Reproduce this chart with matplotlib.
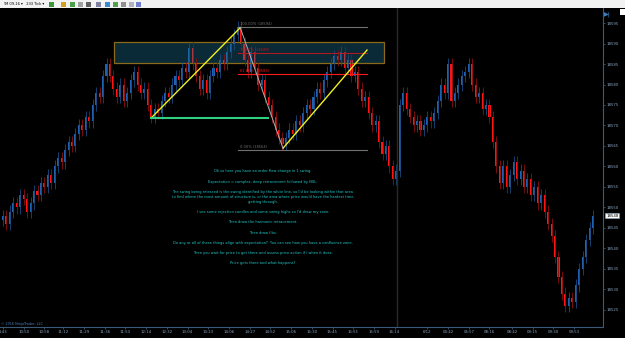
import numpy as np
import matplotlib.pyplot as plt
from matplotlib.patches import Rectangle

# closing prices per bar (233 tick)
closes = [18548, 18546, 18549, 18551, 18550, 18553, 18552, 18549, 18551, 18554, 18553, 18556,
          18555, 18558, 18556, 18560, 18562, 18561, 18564, 18566, 18565, 18568, 18570, 18569,
          18572, 18571, 18575, 18578, 18577, 18582, 18585,
          18582, 18579, 18577, 18580, 18576, 18578, 18581, 18583, 18580, 18578, 18579, 18575, 18572, 18574,
          18573, 18576, 18578, 18577, 18580, 18582, 18581, 18584, 18583, 18589, 18585,
          18582, 18579, 18581, 18578, 18582, 18584, 18583, 18586, 18585, 18588, 18590, 18592, 18594,
          18590, 18586, 18583, 18588, 18584, 18580, 18581, 18577, 18575, 18572, 18569, 18567, 18565.5,
          18567, 18569, 18568, 18571, 18570, 18573, 18575, 18574, 18577, 18579, 18578, 18581, 18583, 18585, 18587,
          18586, 18588, 18584, 18586,
          18582, 18583, 18579, 18576, 18577, 18573, 18570, 18571, 18566, 18563, 18565, 18560, 18557, 18559,
          18575, 18578, 18574, 18572, 18570, 18571, 18569, 18570, 18572, 18571, 18573,
          18576, 18580, 18578, 18585, 18576, 18578, 18580, 18582, 18583,
          18585, 18580, 18577, 18578, 18574, 18575, 18572,
          18566, 18560, 18556, 18560, 18555, 18558, 18561, 18557, 18559, 18555, 18557, 18553, 18555, 18551,
          18553, 18549, 18546, 18543, 18538,
          18533, 18529, 18526, 18528, 18527, 18531, 18535, 18538, 18542, 18545, 18548]
first_open = 18547
wick = 1.5

price_ticks = list(range(18525, 18600, 5))
time_labels = ['1:43', '10:50', '10:58', '11:12', '11:29', '11:36', '11:53', '12:14', '12:32',
               '13:04', '13:23', '14:06', '14:27', '14:52', '15:06', '15:30', '15:45', '15:55',
               '15:59', '16:14', '6/12', '03:42', '05:57', '08:16', '08:42', '09:15', '09:30', '09:53']
time_bars = [0, 6, 12, 17.5, 23.5, 29.5, 35.5, 41.5, 47.5, 53.5, 59.5, 65.5, 71.5, 77.5, 83.5,
             89.5, 95.5, 101.5, 107.5, 113.5, 123, 129, 135, 141, 147.5, 153.5, 159.5, 165.5]

# fib retracement of the white-line swing
swing_high = 18594
swing_low = 18564
fib_levels = [1.0, 0.786, 0.618, 0.0]
zone = (18585.2, 18590.4)
last_price = 18548

notes = [
    "Ok so here you have an order flow change in 1 swing.",
    "Expectation = complex, deep retracement followed by NSL.",
    "The swing being retraced is the swing identified by the white line, so I'd be looking within that area\n"
    "to find where the most amount of structure is, or the area where price would have the hardest time\n"
    "getting through.",
    "I see some rejection candles and some swing highs so I'd draw my zone.",
    "Then draw the harmonic retracement.",
    "Then draw fibs.",
    "Do any or all of these things align with expectation?  You can see how you have a confluence zone.",
    "Then you wait for price to get there and assess price action if / when it does.",
    "Price gets there and what happens?",
]
note_y = [171, 182, 197, 212, 222, 233, 243, 253, 263]

c = np.array(closes, dtype=float)
o = np.concatenate([[first_open], c[:-1]])
hi = np.maximum(o, c) + wick
lo = np.minimum(o, c) - wick
x = np.arange(len(c))
up = c >= o

fig = plt.figure(figsize=(6.25, 3.38), dpi=100, facecolor='black')
ax = fig.add_axes([0, 1 - 327 / 338, 603 / 625, 319 / 338])
ax.set_facecolor('black')

ax.vlines(x[up], lo[up], hi[up], color='#1a4a80', lw=0.6)
ax.vlines(x[~up], lo[~up], hi[~up], color='#8a1010', lw=0.6)
ax.bar(x[up], (c - o)[up], bottom=o[up], width=0.6, color='#2060b0', lw=0)
ax.bar(x[~up], (o - c)[~up], bottom=c[~up], width=0.6, color='#ff1414', lw=0)

# day divider
ax.axvline(114.3, color='#2a2a2a', lw=1)

# zone
ax.add_patch(Rectangle((32.2, zone[0]), 110.4 - 32.2, zone[1] - zone[0],
                       facecolor='#1a7090', alpha=0.38, edgecolor='none'))
ax.add_patch(Rectangle((32.2, zone[0]), 110.4 - 32.2, zone[1] - zone[0],
                       facecolor='none', edgecolor='#8a6a18', lw=0.9))

# fibs
rng = swing_high - swing_low
fib_cols = ['#707070', '#b01822', '#ff1a1a', '#707070']
for lvl, col in zip(fib_levels, fib_cols):
    p = swing_low + lvl * rng
    ax.plot([68.1, 105.5], [p, p], color=col, lw=0.8)
    ax.text(68.6, p + 0.3, f"{lvl * 100:.2f}% ({p:.0f})", color=col, fontsize=2.6,
            va='bottom', ha='left')

# swing lines
ax.plot([42.9, 68.7], [18571.8, 18593.8], color='#f0f020', lw=1)
ax.plot([81.2, 105.5], [18564.5, 18588.4], color='#f0f020', lw=1)
ax.plot([68.7, 81.2], [18594.0, 18564.3], color='#b0b0b0', lw=0.7)
ax.plot([42.9, 76.8], [18571.8, 18571.8], color='#30d080', lw=1.5)

ax.set_xlim(-0.87, 173.9)
ax.set_ylim(18520.85, 18598.66)
ax.yaxis.tick_right()
ax.set_yticks(price_ticks)
ax.set_xticks(time_bars)
ax.set_xticklabels(time_labels)
ax.tick_params(colors='#4a6a8a', labelcolor='#8aa4c0', labelsize=2.8, length=1.5, width=0.5, pad=1)
for s in ['top', 'left']:
    ax.spines[s].set_visible(False)
for s in ['bottom', 'right']:
    ax.spines[s].set_color('#3a5a7a')
    ax.spines[s].set_linewidth(0.8)

# price tag
ax.text(174.8, last_price, str(last_price), fontsize=2.8, color='black', va='center', ha='left',
        bbox=dict(boxstyle='square,pad=0.2', fc='white', ec='#8aa4c0', lw=0.4), clip_on=False)
fig.text(604 / 625, 1 - 14 / 338, '▶|', color='#3a80c0', fontsize=4.5, va='center', ha='left')

# notes
for txt, yy in zip(notes, note_y):
    fig.text(263 / 625, 1 - yy / 338, txt, color='#20c8c8', fontsize=2.6, ha='center', va='center',
             linespacing=1.3)

fig.text(1 / 625, 1 - 324 / 338, '© 2016 NinjaTrader, LLC', color='#4a80c0', fontsize=2.4,
         va='center', ha='left')

# toolbar strip
fig.patches.append(Rectangle((0, 1 - 8 / 338), 1, 8 / 338, transform=fig.transFigure,
                             facecolor='#f2f2f2', edgecolor='none'))
fig.text(3 / 625, 1 - 4 / 338, 'YM 09-16 ▾   233 Tick ▾', color='black', fontsize=2.6, va='center')
icon_cols = ['#3a9a3a', '#d0a020', '#4aa04a', '#a0a0a0', '#606060', '#8080a0', '#3a8ad0',
             '#50a050', '#909090', '#b0b0c0', '#7080d0']
icon_x = [49, 61, 70, 78, 86, 96, 105, 113, 121, 129, 136]
for ix, col in zip(icon_x, icon_cols):
    fig.patches.append(Rectangle((ix / 625, 1 - 7 / 338), 5 / 625, 5 / 338, transform=fig.transFigure,
                                 facecolor=col, edgecolor='none'))
fig.patches.append(Rectangle((620 / 625, 1 - 15 / 338), 5 / 625, 6 / 338, transform=fig.transFigure,
                             facecolor='white', edgecolor='none'))

fig.savefig('out.png', dpi=100, facecolor='black')
